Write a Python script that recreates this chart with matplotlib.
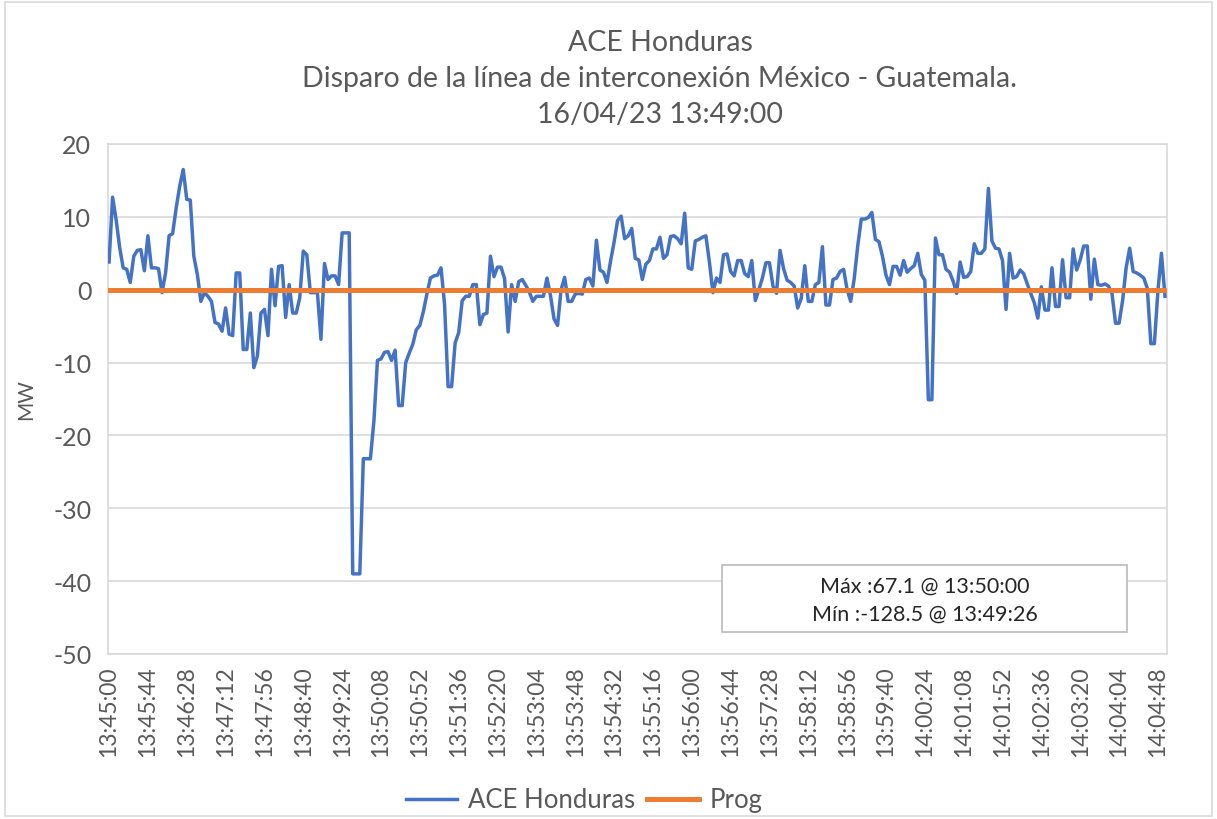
import matplotlib
matplotlib.use("Agg")
import matplotlib.pyplot as plt
from matplotlib.patches import Rectangle

# ---------------- data ----------------
step_s = 4  # seconds between samples, starting 13:45:00
ace_honduras = [
    3.8, 12.7, 9.6, 5.8, 3.0, 2.8, 1.0, 4.6, 5.4, 5.5,
    2.6, 7.4, 3.0, 3.0, 2.9, -0.4, 2.3, 7.4, 7.7, 11.2,
    14.2, 16.5, 12.4, 12.3, 4.6, 2.1, -1.6, -0.4, -0.9, -1.6,
    -4.5, -4.7, -5.7, -2.5, -6.1, -6.3, 2.3, 2.3, -8.2, -8.2,
    -3.2, -10.7, -9.1, -3.2, -2.7, -6.3, 2.8, -2.2, 3.2, 3.3,
    -3.8, 0.7, -3.2, -3.2, -1.1, 5.3, 4.8, -0.4, -0.4, -0.4,
    -6.8, 3.6, 1.4, 1.9, 1.9, 0.7, 7.8, 7.8, 7.8, -39.0,
    -39.0, -39.0, -23.2, -23.2, -23.2, -18.0, -9.7, -9.5, -8.6, -8.5,
    -9.7, -8.3, -15.9, -15.9, -10.0, -8.7, -7.5, -5.5, -4.9, -3.0,
    -0.6, 1.6, 1.9, 2.0, 3.0, -2.0, -13.3, -13.3, -7.3, -5.9,
    -1.5, -0.9, -0.9, 0.7, 0.7, -4.8, -3.4, -3.2, 4.6, 1.8,
    3.1, 3.1, 1.5, -5.8, 0.7, -1.6, 1.1, 1.4, 0.6, -0.3,
    -1.6, -0.9, -0.9, -0.9, 1.6, -0.8, -4.0, -4.9, 0.0, 1.7,
    -1.6, -1.6, -0.6, -0.5, -0.6, 1.4, 1.6, 0.5, 6.8, 2.7,
    2.4, 1.0, 3.9, 6.5, 9.5, 10.1, 7.0, 7.4, 8.4, 4.3,
    4.1, 1.4, 3.5, 4.0, 5.6, 5.6, 7.2, 4.3, 4.8, 7.3,
    7.4, 7.0, 6.3, 10.5, 3.0, 2.8, 6.7, 6.9, 7.2, 7.4,
    3.8, -0.4, 1.6, 1.0, 4.8, 4.9, 2.5, 1.9, 4.0, 4.0,
    2.2, 1.8, 4.0, -1.5, 0.0, 1.6, 3.7, 3.7, 0.5, -0.5,
    5.4, 2.9, 1.3, 1.0, 0.5, -2.5, -1.2, 3.3, -1.6, -1.6,
    0.7, 1.0, 5.9, -2.1, -2.1, 1.4, 1.6, 2.5, 2.8, 0.0,
    -1.6, 1.5, 6.0, 9.7, 9.7, 9.9, 10.6, 6.9, 6.6, 4.6,
    2.0, 0.7, 3.2, 3.2, 2.0, 4.0, 2.4, 2.9, 3.3, 5.0,
    2.1, 1.3, -15.1, -15.1, 7.1, 4.8, 4.8, 2.8, 2.4, 1.2,
    -0.5, 3.8, 1.7, 1.8, 2.5, 6.3, 5.0, 5.0, 5.6, 13.9,
    6.7, 5.7, 5.6, 4.0, -2.7, 5.0, 1.6, 1.8, 2.7, 2.2,
    0.8, -0.5, -1.8, -3.9, 0.4, -2.8, -2.8, 3.0, -2.3, -2.3,
    4.1, -1.1, -1.1, 5.6, 2.7, 4.1, 6.0, 6.0, -1.3, 4.2,
    0.7, 0.6, 0.8, 0.5, -0.5, -4.6, -4.6, -1.5, 3.0, 5.7,
    2.5, 2.3, 2.0, 1.6, 0.2, -7.4, -7.4, -0.2, 5.0, -0.9,
]
prog = [0.0] * len(ace_honduras)
tick_step_s = 44
tick_labels = [
    "13:45:00", "13:45:44", "13:46:28", "13:47:12", "13:47:56", "13:48:40",
    "13:49:24", "13:50:08", "13:50:52", "13:51:36", "13:52:20", "13:53:04",
    "13:53:48", "13:54:32", "13:55:16", "13:56:00", "13:56:44", "13:57:28",
    "13:58:12", "13:58:56", "13:59:40", "14:00:24", "14:01:08", "14:01:52",
    "14:02:36", "14:03:20", "14:04:04", "14:04:48",
]
title_lines = ["ACE Honduras",
               "Disparo de la línea de interconexión México - Guatemala.",
               "16/04/23 13:49:00"]
box_lines = ["Máx :67.1 @ 13:50:00", "Mín :-128.5 @ 13:49:26"]

# ---------------- style ----------------
plt.rcParams['font.family'] = ['Lato', 'DejaVu Sans']
plt.rcParams['axes.unicode_minus'] = False
txt = '#595959'
grid_c = '#D9D9D9'
blue = '#4472C4'
orange = '#ED7D31'

W, H = 1217, 820
fig = plt.figure(figsize=(W / 100, H / 100), dpi=100)
fig.patch.set_facecolor('white')
fig.patches.append(Rectangle((5 / W, 3 / H), (W - 10) / W, (H - 6) / H,
                             transform=fig.transFigure, fill=False,
                             edgecolor='#D9D9D9', linewidth=1.2))

L, R, T, B = 108, 1167, 145, 655
ax = fig.add_axes([L / W, 1 - B / H, (R - L) / W, (B - T) / H])

t = [i * step_s for i in range(len(ace_honduras))]
ax.plot(t, ace_honduras, color=blue, linewidth=2.5, label='ACE Honduras',
        solid_joinstyle='round', zorder=3)
ax.plot(t, prog, color=orange, linewidth=3.6, label='Prog', zorder=4)

ax.set_ylim(-50, 20)
ax.set_yticks(range(-50, 21, 10))
ax.set_xlim(-1.2, t[-1] + 2.3)
ax.set_xticks([i * tick_step_s for i in range(len(tick_labels))])
ax.set_xticklabels(tick_labels, rotation=90)
ax.tick_params(axis='both', length=0, colors=txt, labelsize=16.5)
ax.tick_params(axis='y', labelsize=18, pad=12)
ax.tick_params(axis='x', pad=8)
ax.grid(axis='y', color=grid_c, linewidth=1.2)
ax.set_axisbelow(True)
for s in ax.spines.values():
    s.set_color(grid_c)
    s.set_linewidth(1.2)
ax.set_ylabel('MW', color=txt, fontsize=15, labelpad=12)

# title
for k, line in enumerate(title_lines):
    fig.text(660 / W, 1 - (43 + 36 * k) / H, line, ha='center', va='center',
             color=txt, fontsize=20.5)

# annotation box
ax.add_patch(Rectangle((0.580, 0.043), 0.382, 0.1315, transform=ax.transAxes,
                       fill=True, facecolor='white', edgecolor='#BFBFBF',
                       linewidth=1.3, zorder=5))
ax.text(0.7715, 0.1340, box_lines[0], transform=ax.transAxes, ha='center',
        va='center', color='#262626', fontsize=15.5, zorder=6)
ax.text(0.7715, 0.0790, box_lines[1], transform=ax.transAxes, ha='center',
        va='center', color='#262626', fontsize=15.5, zorder=6)

leg = fig.legend(loc='center', bbox_to_anchor=(584 / W, 1 - 801 / H), ncol=2,
                 frameon=False, fontsize=18.5, handlelength=2.0,
                 columnspacing=0.5, handletextpad=0.4, labelcolor=txt)

fig.savefig('out.png', dpi=100)
